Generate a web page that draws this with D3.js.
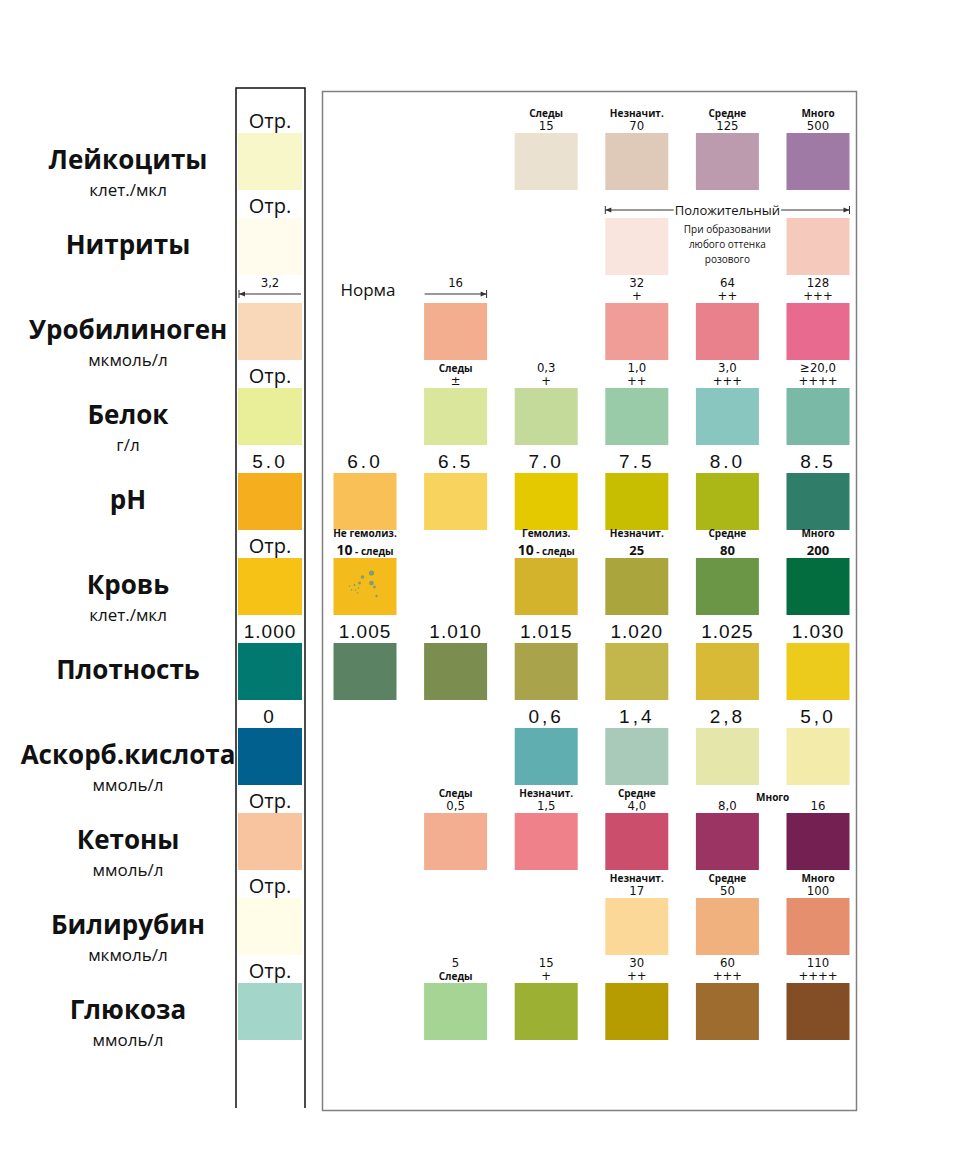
<!DOCTYPE html>
<html><head><meta charset="utf-8">
<script src="https://cdn.jsdelivr.net/npm/d3@7"></script>
<style>body{margin:0;background:#fff}</style>
</head><body><svg id="c" width="962" height="1150"></svg>
<script>
// ---------- DATA ----------
const parameters = ["Лейкоциты","Нитриты","Уробилиноген","Белок","pH","Кровь","Плотность","Аскорб.кислота","Кетоны","Билирубин","Глюкоза"];
const units = ["клет./мкл","","мкмоль/л","г/л","","клет./мкл","","ммоль/л","ммоль/л","мкмоль/л","ммоль/л"];
const levels = [0,1,2,3,4,5,6]; // 0 = reference (negative) strip column
const swatchColors = [
  ["#f8f7c9",null,null,"#ebe1d0","#dfcaba","#bd9bae","#9e7aa5"],
  ["#fffcee",null,null,null,"#f9e5dd",null,"#f6c9bd"],
  ["#f8d8b9",null,"#f3ae8f",null,"#f09d97","#e8818b","#e86a8e"],
  ["#e9ef99",null,"#d9e69b","#c4da9a","#9acba9","#89c6c0","#79b9a6"],
  ["#f4ae1e","#f9c058","#f8d35e","#e5c900","#c7be01","#abb617","#307d69"],
  ["#f6c215","#f3bc1c",null,"#d4b32c","#aba53d","#6b9646","#046d40"],
  ["#017970","#5b8363","#7b8e4f","#a9a34b","#c3b74b","#d9ba36","#edcb1c"],
  ["#02608e",null,null,"#60aeb0","#a9cab8","#e5e7aa","#f3eba9"],
  ["#f7c49f",null,"#f3ad90","#ee818a","#cb4f6c","#9b3363","#752053"],
  ["#fffde7",null,null,null,"#fbd898","#f1b17e","#e68f6f"],
  ["#a3d5c9",null,"#a6d494","#9cb134","#b69b01","#9f6c30","#834d25"]
];
const labelTop = [
  ["","","","Следы","Незначит.","Средне","Много"],
  ["","","","","","",""],
  ["3,2","","16","","32","64","128"],
  ["","","Следы","0,3","1,0","3,0","≥20,0"],
  ["","","","","","",""],
  ["","Не гемолиз.","","Гемолиз.","Незначит.","Средне","Много"],
  ["","","","","","",""],
  ["","","","","","",""],
  ["","","Следы","Незначит.","Средне","",""],
  ["","","","","Незначит.","Средне","Много"],
  ["","","5","15","30","60","110"]
];
const labelBottom = [
  ["Отр.","","","15","70","125","500"],
  ["Отр.","","","","","",""],
  ["","","","","+","++","+++"],
  ["Отр.","","±","+","++","+++","++++"],
  ["5.0","6.0","6.5","7.0","7.5","8.0","8.5"],
  ["Отр.","10 - следы","","10 - следы","25","80","200"],
  ["1.000","1.005","1.010","1.015","1.020","1.025","1.030"],
  ["0","","","0,6","1,4","2,8","5,0"],
  ["Отр.","","0,5","1,5","4,0","8,0","16"],
  ["Отр.","","","","17","50","100"],
  ["Отр.","","Следы","+","++","+++","++++"]
];
const largeLabelRows = ["pH","Плотность","Аскорб.кислота"];
const boldNumberRows = ["Кровь"];
const rangeMarks = [
  {param:"Уробилиноген", level:0, arrow:"start"},
  {param:"Уробилиноген", level:2, arrow:"end"}
];
const positiveRange = {param:"Нитриты", from:4, to:6, label:"Положительный",
  note:["При образовании","любого оттенка","розового"]};
const normNote = {param:"Уробилиноген", level:1, text:"Норма"};
const betweenNote = {param:"Кетоны", levels:[5,6], text:"Много"};
// decorative spots of the non-hemolysed blood pad (offsets inside the pad)
const bloodSpots = [[38,15,2.6],[29,19,1.8],[38,25,2.3],[41,29,1.4],[26,25,1.5],[21,27,1],[18,32,0.8],[22,32,0.8],[24,35,0.8],[25,30,0.8],[43,38,1.2],[16,28,0.7]];

// ---------- LAYOUT ----------
const svg = d3.select("#c");
const y = d3.scaleBand().domain(parameters).range([133,1040]).paddingInner(28/85).paddingOuter(0).align(0);
const xCol = d3.scaleLinear().domain([1,6]).range([365,818]);
const xc = l => l===0 ? 270 : xCol(l);
const SW = 63;
const BH = y.bandwidth();
const NARROW = "'Liberation Sans Narrow','Arial Narrow','DejaVu Sans Condensed',sans-serif";
const SANS = "'Open Sans','Noto Sans',sans-serif";

// frames
svg.append("rect").attr("x",322.5).attr("y",91.5).attr("width",534).attr("height",1019)
  .attr("fill","none").attr("stroke","#808080").attr("stroke-width",1.5);
svg.append("path").attr("d","M236,1108V88H305V1108").attr("fill","none").attr("stroke","#111").attr("stroke-width",1.5);

// cells
const cells = parameters.flatMap((p,r)=>levels.map(l=>({p,r,l,color:swatchColors[r][l],top:labelTop[r][l],bot:labelBottom[r][l]})));

svg.append("g").selectAll("rect").data(cells.filter(d=>d.color)).join("rect")
  .attr("x",d=>xc(d.l)-(d.l===0?32:SW/2)).attr("y",d=>y(d.p))
  .attr("width",d=>d.l===0?64:SW).attr("height",BH).attr("fill",d=>d.color);

// spots
const bp = cells.find(d=>d.p==="Кровь" && d.l===1);
svg.append("g").selectAll("circle").data(bloodSpots).join("circle")
  .attr("cx",s=>xc(bp.l)-SW/2+s[0]).attr("cy",s=>y(bp.p)+s[1]).attr("r",s=>s[2]).attr("fill","#7f9c72");

const hasLetters = t => /[А-Яа-яЁё]/.test(t);
const isLarge = d => (largeLabelRows.includes(d.p)) || (d.l===0 && d.p!=="Уробилиноген");

const lab = svg.append("g").attr("text-anchor","middle").attr("fill","#111");
// large labels
cells.filter(d=>d.bot && isLarge(d)).forEach(d=>{
  const t = lab.append("text").attr("x",xc(d.l)).attr("y",y(d.p)-5).text(d.bot);
  if (hasLetters(d.bot)) t.attr("font-family",SANS).attr("font-size",20);
  else t.attr("font-family","'Liberation Sans',Arial,sans-serif").attr("font-size",19)
        .attr("letter-spacing", d.bot.length<=3 ? 3 : 1);
});
function smallText(x, yy, txt, boldNum) {
  const t = lab.append("text").attr("x",x).attr("y",yy);
  if (txt.startsWith("10 - ")) {
    t.attr("font-family",SANS).attr("font-weight",700);
    t.append("tspan").attr("font-size",14).text("10");
    t.append("tspan").attr("font-size",10).text(txt.slice(2));
  } else if (hasLetters(txt)) {
    t.attr("font-family",SANS).attr("font-weight",700).attr("font-size",10).text(txt);
  } else if (boldNum) {
    t.attr("font-family",SANS).attr("font-weight",700).attr("font-size",13).text(txt);
  } else {
    t.attr("font-family",NARROW).attr("font-size",13).text(txt);
  }
  return t;
}
cells.filter(d=>!isLarge(d)).forEach(d=>{
  const top = y(d.p);
  const bold = boldNumberRows.includes(d.p);
  if (d.top) smallText(xc(d.l), top-(bold?21:16), d.top, false);
  if (d.bot) smallText(xc(d.l), top-3, d.bot, bold);
});

// range arrows (urobilinogen)
rangeMarks.forEach(m=>{
  const yy = y(m.param)-9, x0 = xc(m.level)-31, x1 = xc(m.level)+31;
  const g = svg.append("g").attr("stroke","#333").attr("fill","#333");
  g.append("line").attr("x1",x0).attr("x2",x1).attr("y1",yy).attr("y2",yy).attr("stroke-width",1);
  const xe = m.arrow==="start"?x0:x1, dir = m.arrow==="start"?1:-1;
  g.append("line").attr("x1",xe).attr("x2",xe).attr("y1",yy-4).attr("y2",yy+4).attr("stroke-width",1);
  g.append("path").attr("d",`M${xe},${yy}L${xe+dir*6},${yy-2.5}L${xe+dir*6},${yy+2.5}Z`).attr("stroke","none");
});

// positive bracket (nitrites)
{
  const pr = positiveRange, top = y(pr.param), yy = top-8;
  const x0 = xc(pr.from)-SW/2, x1 = xc(pr.to)+SW/2, xm = (x0+x1)/2;
  const g = svg.append("g").attr("stroke","#333").attr("fill","#333");
  g.append("line").attr("x1",x0).attr("x2",x1).attr("y1",yy).attr("y2",yy).attr("stroke-width",1);
  [[x0,1],[x1,-1]].forEach(([xe,dir])=>{
    g.append("line").attr("x1",xe).attr("x2",xe).attr("y1",yy-4).attr("y2",yy+4).attr("stroke-width",1);
    g.append("path").attr("d",`M${xe},${yy}L${xe+dir*6},${yy-2.5}L${xe+dir*6},${yy+2.5}Z`).attr("stroke","none");
  });
  const t = svg.append("text").attr("x",xm).attr("y",yy+4.5).attr("text-anchor","middle")
    .attr("font-family",SANS).attr("font-size",13).attr("fill","#111").text(pr.label);
  const bb = t.node().getBBox();
  svg.insert("rect", function(){return t.node();}).attr("x",bb.x-1).attr("y",bb.y).attr("width",bb.width+2).attr("height",bb.height).attr("fill","#fff");
  pr.note.forEach((n,i)=>svg.append("text").attr("x",xm).attr("y",top+15+i*15).attr("text-anchor","middle")
    .attr("font-family",SANS).attr("font-size",10).attr("fill","#111").text(n));
}
// notes
svg.append("text").attr("x",xc(normNote.level)+3).attr("y",y(normNote.param)-7).attr("text-anchor","middle")
  .attr("font-family",SANS).attr("font-size",17).attr("fill","#111").text(normNote.text);
smallText((xc(betweenNote.levels[0])+xc(betweenNote.levels[1]))/2, y(betweenNote.param)-12, betweenNote.text, false);

// parameter names
const names = svg.append("g").attr("text-anchor","middle").attr("fill","#111");
parameters.forEach((p,i)=>{
  names.append("text").attr("x",128).attr("y",y(p)+36).attr("font-family",SANS).attr("font-weight",700)
    .attr("font-size",26).text(p);
  if (units[i]) names.append("text").attr("x",128).attr("y",y(p)+63).attr("font-family",SANS)
    .attr("font-size",17).text(units[i]);
});
</script></body></html>
